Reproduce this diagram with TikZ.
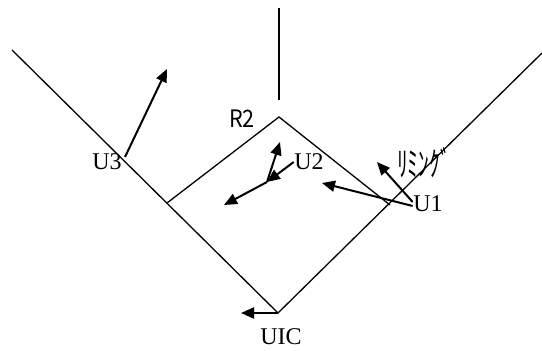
\documentclass[tikz,border=0pt]{standalone}
\usepackage{fontspec}
\setmainfont{Liberation Serif}
\newfontfamily\jpfont{Noto Sans CJK JP}
\usetikzlibrary{arrows.meta}
\tikzset{
  every picture/.style={x=1pt, y=-1pt, line width=1.3pt},
  wire/.style={draw=black, line width=1.3pt, line join=miter},
  arrow/.style={-{Triangle[length=13pt, width=11pt]}, draw=black, line width=2pt},
  lbl/.style={font=\fontsize{24}{24}\selectfont, inner sep=0pt},
  jlbl/.style={font=\jpfont\fontsize{24}{24}\selectfont, inner sep=0pt, xscale=0.9},
}

\begin{document}
\begin{tikzpicture}
  \useasboundingbox (0,0) rectangle (542,351);
  % the V and the rhombus
  \coordinate (vl) at (12,50);
  \coordinate (vb) at (278,313);
  \coordinate (vr) at (542,53);
  \coordinate (rt) at (279,117);
  \coordinate (rl) at (167,203);
  \coordinate (rr) at (390,205);
  \coordinate (st) at (279,8);
  \coordinate (sb) at (279,100);
  \draw[wire] (vl) -- (vb) -- (vr);
  \draw[wire] (rl) -- (rt) -- (rr);
  \draw[wire] (st) -- (sb);
  % labels
  \node[lbl] (u3) at (107,162) {U3};
  \node[lbl] (u2) at (309,162) {U2};
  \node[lbl] (u1) at (428,204) {U1};
  \node[lbl] (uic) at (281,337) {UIC};
  \node[jlbl] (r2) at (242,119) {R2};
  \node[jlbl, font=\jpfont\fontsize{34}{34}\selectfont, xscale=0.7] (rim) at (424,163) {ﾘﾐﾝｸﾞ};
  % arrow ends
  \coordinate (u3t) at (125,157);
  \coordinate (u3h) at (167,69);
  \coordinate (u1a) at (377,162);
  \coordinate (u1b) at (322,183);
  \coordinate (jn) at (267,182);
  \coordinate (u2a) at (280,142);
  \coordinate (u2b) at (224,205);
  \coordinate (uich) at (241,313);
  \draw[arrow] (u3t) -- (u3h);
  \draw[arrow] ([yshift=2]u1.west) -- (u1a);
  \draw[arrow] ([yshift=-2]u1.west) -- (u1b);
  \draw[arrow] (u2.west) -- (jn);
  \draw[arrow] (jn) -- (u2a);
  \draw[arrow] (jn) -- (u2b);
  \draw[arrow] (vb) -- (uich);
\end{tikzpicture}
\end{document}
